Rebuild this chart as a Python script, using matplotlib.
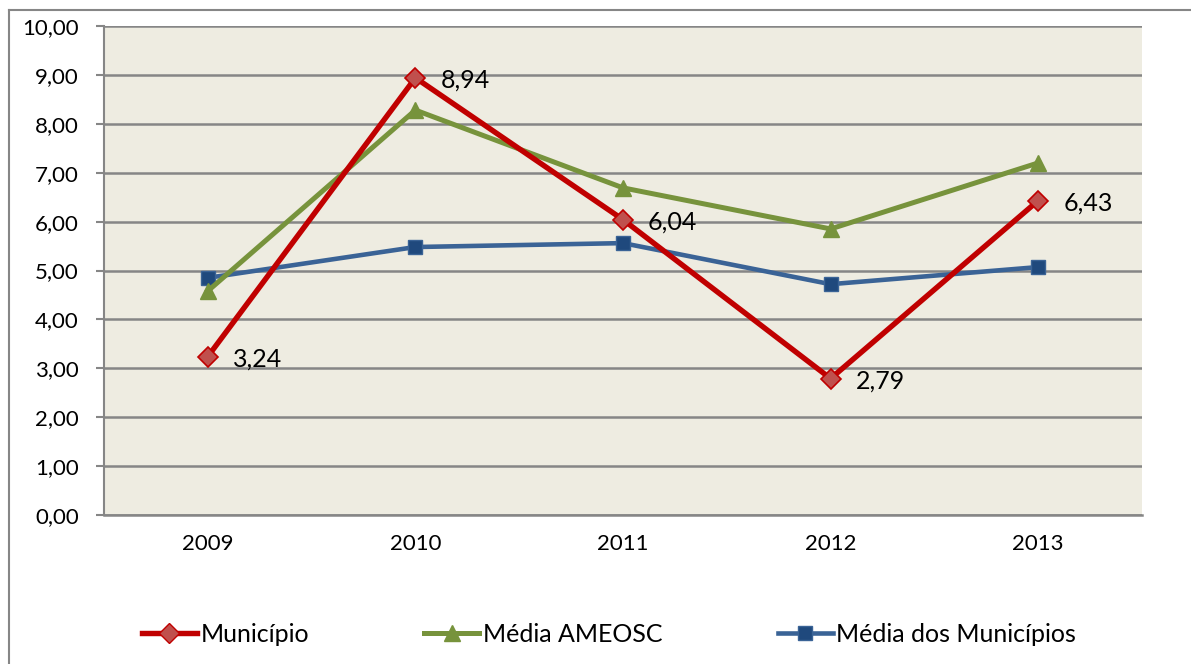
import matplotlib
matplotlib.use("Agg")
import matplotlib.pyplot as plt
from matplotlib.lines import Line2D

years = ["2009", "2010", "2011", "2012", "2013"]
municipio = [3.24, 8.94, 6.04, 2.79, 6.43]
media_ameosc = [4.58, 8.28, 6.69, 5.85, 7.20]
media_municipios = [4.85, 5.48, 5.56, 4.72, 5.07]
y_ticks = [0, 1, 2, 3, 4, 5, 6, 7, 8, 9, 10]
series_labels = ["Município", "Média AMEOSC", "Média dos Municípios"]

plt.rcParams['font.family'] = ['Lato', 'DejaVu Sans']

W, H = 1191, 664
fig = plt.figure(figsize=(W / 100, H / 100), dpi=100)
ax = fig.add_axes([104 / W, 1 - 515 / H, (1142 - 104) / W, (515 - 26) / H])
ax.set_facecolor('#EEECE1')

x = list(range(len(years)))
grid_c = '#868686'
for v in y_ticks:
    ax.axhline(v, color=grid_c, lw=1.8, zorder=1)

ax.plot(x, media_municipios, color='#3A6396', lw=3.3, marker='s', ms=10,
        mfc='#1F497D', mec='#3A6396', mew=1, zorder=3, clip_on=False)
ax.plot(x, media_ameosc, color='#77933C', lw=3.6, marker='^', ms=11,
        mfc='#77933C', mec='#77933C', mew=1, zorder=4, clip_on=False)
ax.plot(x, municipio, color='#C00000', lw=3.9, marker='D', ms=10,
        mfc='#C0504D', mec='#C00000', mew=1.2, zorder=5, clip_on=False)

for xi, v in zip(x, municipio):
    ax.annotate(f"{v:.2f}".replace('.', ','), (xi, v), xytext=(18, -1.5),
                textcoords='offset points', ha='left', va='center',
                fontsize=18, color='#000000', zorder=6)

ax.set_xlim(-0.5, len(years) - 0.5)
ax.set_ylim(0, 10)
ax.set_xticks(x)
ax.set_xticklabels(years)
ax.set_yticks(y_ticks)
ax.set_yticklabels([f"{v:.2f}".replace('.', ',') for v in y_ticks])
ax.tick_params(axis='x', length=0, pad=14, labelsize=16)
ax.tick_params(axis='y', length=6, width=1.5, color=grid_c, pad=12, labelsize=16)
for s in ['top', 'right']:
    ax.spines[s].set_visible(False)
ax.spines['left'].set_color(grid_c)
ax.spines['left'].set_linewidth(1.5)
ax.spines['bottom'].set_color(grid_c)
ax.spines['bottom'].set_linewidth(1.8)

handles = [
    Line2D([], [], color='#C00000', lw=3.9, marker='D', ms=10, mfc='#C0504D', mec='#C00000'),
    Line2D([], [], color='#77933C', lw=3.6, marker='^', ms=11, mfc='#77933C', mec='#77933C'),
    Line2D([], [], color='#3A6396', lw=3.3, marker='s', ms=10, mfc='#1F497D', mec='#3A6396'),
]
fig.legend(handles, series_labels, ncol=3, loc='center',
           bbox_to_anchor=(609 / W, 1 - 634 / H), frameon=False,
           fontsize=18, handlelength=2.2, handletextpad=0.15, columnspacing=4.6)

# outer chart border (partially visible)
fig.add_artist(Line2D([9 / W, 1.0], [1 - 10 / H, 1 - 10 / H], color=grid_c, lw=1.5,
                      transform=fig.transFigure))
fig.add_artist(Line2D([9 / W, 9 / W], [1 - 10 / H, 0.0], color=grid_c, lw=1.5,
                      transform=fig.transFigure))

fig.savefig("out.png", dpi=100)
